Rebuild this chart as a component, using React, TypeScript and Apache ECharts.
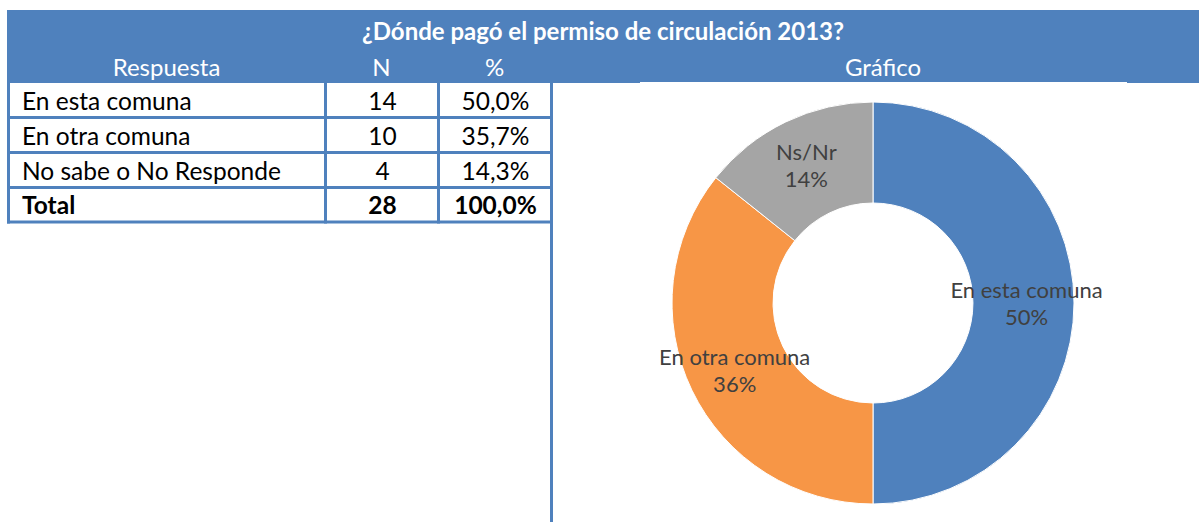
import React, { useEffect, useRef } from "react";
import * as echarts from "echarts";

const headerTitle = "¿Dónde pagó el permiso de circulación 2013?";
const tableColumns = ["Respuesta", "N", "%"];
const chartHeader = "Gráfico";
const responses = ["En esta comuna", "En otra comuna", "No sabe o No Responde"];
const counts = ["14", "10", "4"];
const percents = ["50,0%", "35,7%", "14,3%"];
const totalRow = ["Total", "28", "100,0%"];
const chartNames = ["En esta comuna", "En otra comuna", "Ns/Nr"];
const chartValues = [14, 10, 4];
const chartColors = ["#4F81BD", "#F79646", "#A5A5A5"];

const BLUE = "#4F81BD";
const FONT = "Lato";

export default function App() {
  const ref = useRef<HTMLDivElement>(null);
  useEffect(() => {
    if (!ref.current) return;
    const chart = echarts.init(ref.current, null, { renderer: "svg" });

    const colX = [8, 325, 438, 551];
    const rowY = [83, 117.5, 152.5, 187.5, 222];
    const lw = 3;
    const els: any[] = [];
    // header band
    els.push({ type: "rect", shape: { x: 7, y: 10, width: 1192, height: 73 }, style: { fill: BLUE } });
    // chart white area
    els.push({ type: "rect", shape: { x: 640, y: 82, width: 487, height: 440 }, style: { fill: "#fff" } });
    els.push({
      type: "text", x: 603, y: 30,
      style: { text: headerTitle, fill: "#fff", fontSize: 24, fontWeight: "bold", fontFamily: FONT, textAlign: "center", textVerticalAlign: "middle" },
    });
    tableColumns.forEach((t, i) => {
      els.push({
        type: "text", x: (colX[i] + colX[i + 1]) / 2, y: 66,
        style: { text: t, fill: "#fff", fontSize: 24, fontFamily: FONT, textAlign: "center", textVerticalAlign: "middle" },
      });
    });
    els.push({
      type: "text", x: 883, y: 66,
      style: { text: chartHeader, fill: "#fff", fontSize: 24, fontFamily: FONT, textAlign: "center", textVerticalAlign: "middle" },
    });
    // table lines
    rowY.slice(1).forEach((y) => {
      els.push({ type: "line", shape: { x1: 7, y1: y, x2: 552.5, y2: y }, style: { stroke: BLUE, lineWidth: lw } });
    });
    [8.5, 325.5, 438.5].forEach((x) => {
      els.push({ type: "line", shape: { x1: x, y1: 83, x2: x, y2: 223.5 }, style: { stroke: BLUE, lineWidth: lw } });
    });
    els.push({ type: "line", shape: { x1: 551.5, y1: 83, x2: 551.5, y2: 522 }, style: { stroke: BLUE, lineWidth: lw } });

    const rows = responses.map((r, i) => [r, counts[i], percents[i]]).concat([totalRow]);
    rows.forEach((row, ri) => {
      const cy = (rowY[ri] + rowY[ri + 1]) / 2;
      const bold = ri === rows.length - 1;
      row.forEach((cell, ci) => {
        const left = ci === 0;
        els.push({
          type: "text",
          x: left ? 22 : (colX[ci] + colX[ci + 1]) / 2 + 1,
          y: cy,
          style: {
            text: cell, fill: "#000", fontSize: 24.5, fontFamily: FONT,
            fontWeight: bold ? "bold" : "normal",
            textAlign: left ? "left" : "center", textVerticalAlign: "middle",
          },
        });
      });
    });

    chart.setOption({
      animation: false,
      graphic: { elements: els },
      series: [
        {
          type: "pie",
          center: [873, 303],
          radius: [100, 201],
          startAngle: 90,
          clockwise: true,
          silent: true,
          itemStyle: { borderColor: "#fff", borderWidth: 1 },
          label: {
            show: true,
            position: "inside",
            color: "#404040",
            fontSize: 22,
            fontFamily: FONT,
            lineHeight: 27,
            formatter: (p: any) => `${p.name}\n${Math.round(p.percent)}%`,
          },
          labelLine: { show: false },
          data: chartNames.map((n, i) => ({ name: n, value: chartValues[i], itemStyle: { color: chartColors[i] } })),
        },
      ],
    });
    return () => chart.dispose();
  }, []);
  return (
    <div
      ref={ref}
      style={{ position: "fixed", left: 0, top: 0, width: 1199, height: 522, background: "#fff" }}
    />
  );
}
